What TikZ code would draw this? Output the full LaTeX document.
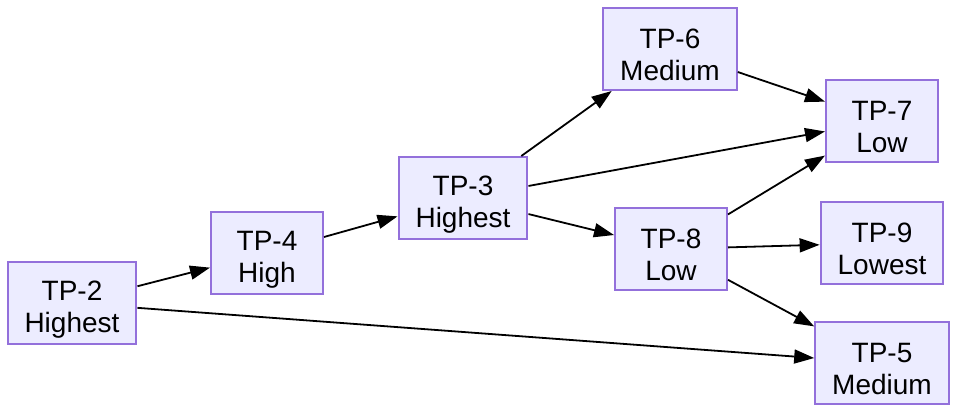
\documentclass[tikz,border=0pt]{standalone}
\usepackage{fontspec}
\setmainfont{Liberation Sans}
\usepackage{xcolor}
\usetikzlibrary{arrows.meta, positioning}

\definecolor{tpfill}{HTML}{ECECFF}
\definecolor{tpline}{HTML}{9370DB}
\newcommand{\tplines}[2]{\rule{0pt}{16pt}#1\\#2}

\begin{document}
\begin{tikzpicture}[
        x=0.5pt, y=-0.5pt,
        tpbox/.style={rectangle, draw=tpline, fill=tpfill, line width=1pt, align=center, font=\fontsize{14}{16}\selectfont, inner xsep=8.5pt, inner ysep=2pt, minimum width=56pt, minimum height=41pt},
        arrow/.style={line width=0.9pt, -{Triangle[length=10pt, width=7pt]}}
    ]
    \useasboundingbox (0,0) rectangle (959,414);

    \node [tpbox] (tp2) at (72,303) {\tplines{TP-2}{Highest}};
    \node [tpbox] (tp4) at (267,253) {\tplines{TP-4}{High}};
    \node [tpbox] (tp3) at (463,198) {\tplines{TP-3}{Highest}};
    \node [tpbox] (tp6) at (670,49) {\tplines{TP-6}{Medium}};
    \node [tpbox] (tp8) at (671,249) {\tplines{TP-8}{Low}};
    \node [tpbox] (tp7) at (882,121) {\tplines{TP-7}{Low}};
    \node [tpbox] (tp9) at (882,243) {\tplines{TP-9}{Lowest}};
    \node [tpbox] (tp5) at (882,363) {\tplines{TP-5}{Medium}};

    \draw [arrow] (tp2) -- (tp4);
    \draw [arrow] (tp2) -- (tp5);
    \draw [arrow] (tp4) -- (tp3);
    \draw [arrow] (tp3) -- (tp6);
    \draw [arrow] (tp3) -- (tp7);
    \draw [arrow] (tp3) -- (tp8);
    \draw [arrow] (tp6) -- (tp7);
    \draw [arrow] (tp8) -- (tp7);
    \draw [arrow] (tp8) -- (tp9);
    \draw [arrow] (tp8) -- (tp5);

\end{tikzpicture}
\end{document}
